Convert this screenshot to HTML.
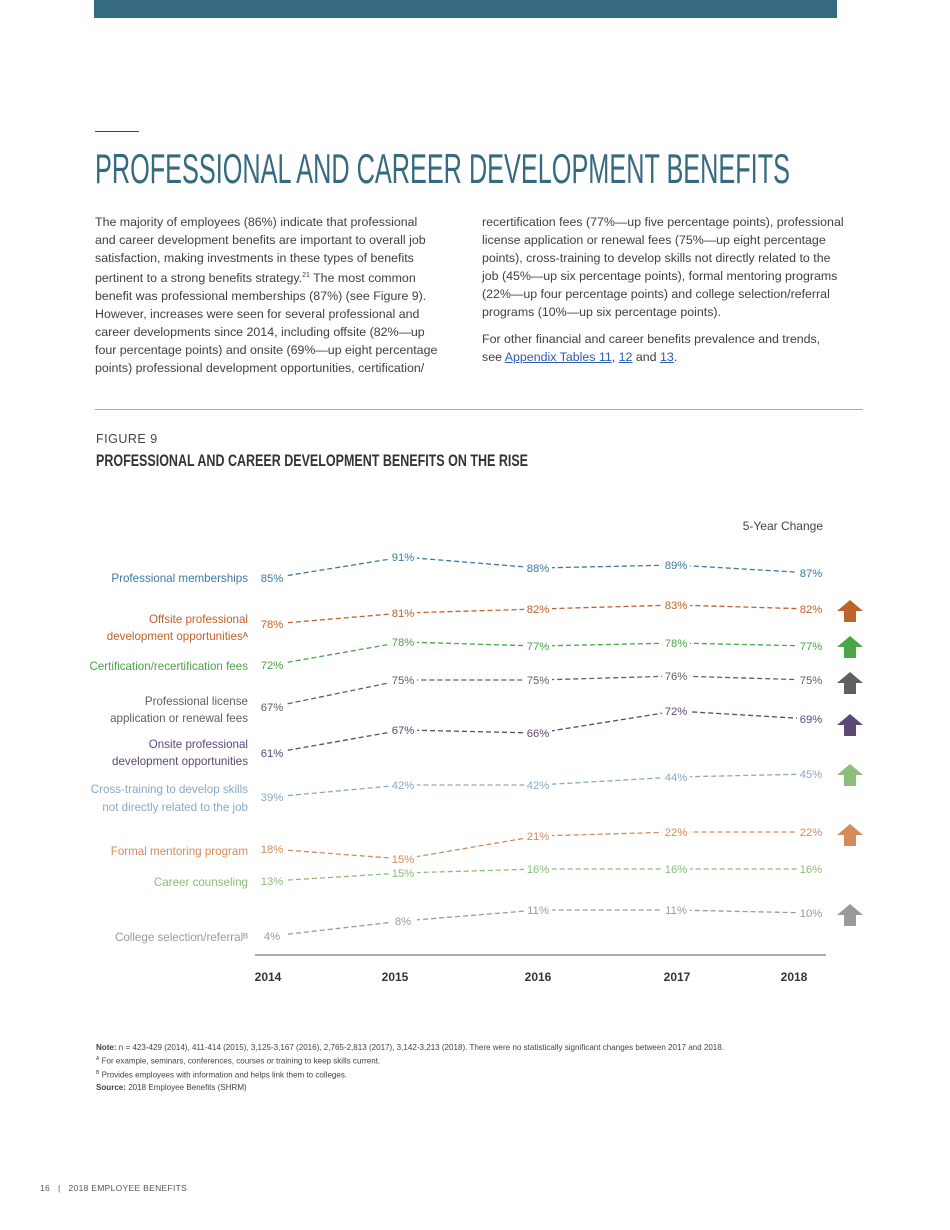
<!DOCTYPE html>
<html><head><meta charset="utf-8"><style>
body{margin:0;background:#fff;}
#p{position:relative;width:950px;height:1230px;overflow:hidden;font-family:"Liberation Sans",sans-serif;color:#3a3a3a;}
.col{position:absolute;top:213px;font-size:12.4px;line-height:18px;color:#404040;white-space:nowrap;}
.col p{margin:0 0 9px 0;}
a{color:#2a5db0;text-decoration:underline;}
sup{font-size:7px;}
.note{position:absolute;left:96px;font-size:8.05px;color:#444;white-space:nowrap;}
</style></head><body><div id="p">
<div style="position:absolute;left:94px;top:0;width:743px;height:18px;background:#366a80"></div>
<div style="position:absolute;left:95px;top:131px;width:44px;height:1px;background:#444"></div>
<svg style="position:absolute;left:0;top:0" width="950" height="200"><text x="95" y="183" font-family="'Liberation Sans',sans-serif" font-size="42" fill="#366a80" textLength="695" lengthAdjust="spacingAndGlyphs">PROFESSIONAL AND CAREER DEVELOPMENT BENEFITS</text></svg>
<div class="col" style="left:95px">The majority of employees (86%) indicate that professional<br>and career development benefits are important to overall job<br>satisfaction, making investments in these types of benefits<br>pertinent to a strong benefits strategy.<sup>21</sup> The most common<br>benefit was professional memberships (87%) (see Figure 9).<br>However, increases were seen for several professional and<br>career developments since 2014, including offsite (82%—up<br>four percentage points) and onsite (69%—up eight percentage<br>points) professional development opportunities, certification/</div>
<div class="col" style="left:482px"><p>recertification fees (77%—up five percentage points), professional<br>license application or renewal fees (75%—up eight percentage<br>points), cross-training to develop skills not directly related to the<br>job (45%—up six percentage points), formal mentoring programs<br>(22%—up four percentage points) and college selection/referral<br>programs (10%—up six percentage points).</p><p>For other financial and career benefits prevalence and trends,<br>see <a>Appendix Tables 11</a>, <a>12</a> and <a>13</a>.</p></div>
<div style="position:absolute;left:95px;top:409px;width:768px;height:1px;background:#aaa"></div>
<div style="position:absolute;left:96px;top:432px;font-size:12.5px;color:#444;letter-spacing:.5px">FIGURE 9</div>
<svg style="position:absolute;left:0;top:440px" width="950" height="40"><text x="96" y="26" font-family="'Liberation Sans Narrow','Liberation Sans',sans-serif" font-weight="bold" font-size="17" fill="#333" textLength="432" lengthAdjust="spacingAndGlyphs">PROFESSIONAL AND CAREER DEVELOPMENT BENEFITS ON THE RISE</text></svg>
<svg id="c" style="position:absolute;left:0;top:0" width="950" height="1000" font-family="Liberation Sans, sans-serif" font-size="11.3">
<text x="823" y="530" text-anchor="end" fill="#444" font-size="12">5-Year Change</text>
<line x1="255" y1="955" x2="826" y2="955" stroke="#555" stroke-width="1"/>
<g font-weight="bold" font-size="12" fill="#333" text-anchor="middle">
<text x="268" y="981">2014</text><text x="395" y="981">2015</text><text x="538" y="981">2016</text><text x="677" y="981">2017</text><text x="794" y="981">2018</text></g>
<g id="series"></g>
</svg>
<div class="note" style="top:1043px"><b>Note:</b> n = 423-429 (2014), 411-414 (2015), 3,125-3,167 (2016), 2,765-2,813 (2017), 3,142-3,213 (2018). There were no statistically significant changes between 2017 and 2018.</div>
<div class="note" style="top:1056px"><sup style="font-size:5px">A</sup> For example, seminars, conferences, courses or training to keep skills current.</div>
<div class="note" style="top:1070px"><sup style="font-size:5px">B</sup> Provides employees with information and helps link them to colleges.</div>
<div class="note" style="top:1083px"><b>Source:</b> 2018 Employee Benefits (SHRM)</div>
<div style="position:absolute;left:40px;top:1183px;font-size:8.5px;color:#555;letter-spacing:.3px">16 &nbsp;&nbsp;|&nbsp;&nbsp; 2018 EMPLOYEE BENEFITS</div>
<script>
var X=[272,403,538,676,811];
var S=[
["#3b7aa0",[85,91,88,89,87],[578,557,568,565,573],["Professional memberships"],[582],null],
["#c0622a",[78,81,82,83,82],[624,613,609,605,609],["Offsite professional","development opportunities\u1d2c"],[623,640],610],
["#4aa546",[72,78,77,78,77],[665,642,646,643,646],["Certification/recertification fees"],[670],646],
["#5f6062",[67,75,75,76,75],[707,680,680,676,680],["Professional license","application or renewal fees"],[705,722],682],
["#5e4677",[61,67,66,72,69],[753,730,733,711,719],["Onsite professional","development opportunities"],[748,765],724],
["#89a8c6",[39,42,42,44,45],[797,785,785,777,774],["Cross-training to develop skills","not directly related to the job"],[793,811],774],
["#d58a5b",[18,15,21,22,22],[849,859,836,832,832],["Formal mentoring program"],[855],834],
["#8bbd79",[13,15,16,16,16],[881,873,869,869,869],["Career counseling"],[886],null],
["#9a9a9d",[4,8,11,11,10],[936,921,910,910,913],["College selection/referral\u1d2e"],[941],914]
];
var arrowCol={1:"#c0622a",2:"#4aa546",3:"#5f6062",4:"#5e4677",5:"#8dbe7c",6:"#d58a5b",8:"#9a9a9d"};
var h='';
S.forEach(function(s,i){
 var c=s[0],pts=[];
 for(var k=0;k<5;k++)pts.push(X[k]+','+s[2][k]);
 h+='<polyline points="'+pts.join(' ')+'" fill="none" stroke="'+c+'" stroke-width="1.3" stroke-dasharray="5,3"/>';
 for(var k=0;k<5;k++){
  h+='<rect x="'+(X[k]-14)+'" y="'+(s[2][k]-7)+'" width="28" height="13" fill="#fff"/>';
  h+='<text x="'+X[k]+'" y="'+(s[2][k]+4)+'" text-anchor="middle" fill="'+c+'">'+s[1][k]+'%</text>';
 }
 s[3].forEach(function(t,j){h+='<text x="248" y="'+s[4][j]+'" text-anchor="end" fill="'+c+'" font-size="11.6">'+t+'</text>';});
 if(s[5]){var y=s[5],ac=arrowCol[i];
  h+='<polygon points="850,'+(y-10)+' 863,'+(y+1)+' 856,'+(y+1)+' 856,'+(y+12)+' 844,'+(y+12)+' 844,'+(y+1)+' 837,'+(y+1)+'" fill="'+ac+'"/>';}
});
document.getElementById('series').innerHTML=h;
</script>
</div></body></html>
